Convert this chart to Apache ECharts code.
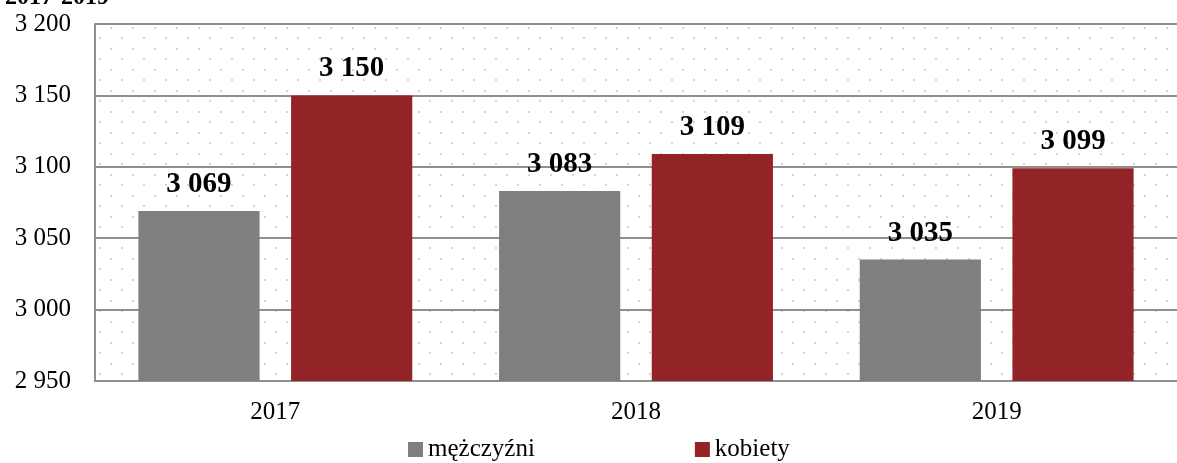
<!DOCTYPE html>
<html style="height: 100%">
<head>
<meta charset="utf-8">
<style type="text/css">
    body, html, #chart {width: 100%; height: 100%; margin: 0; overflow: hidden; background: #fff;}
</style>
</head>
<body>
<div id="chart"></div>
<script type="text/javascript" src="https://cdn.jsdelivr.net/npm/echarts@6/dist/echarts.min.js"></script>
<script type="text/javascript">
var years = ['2017', '2018', '2019'];
var seriesNames = ['mężczyźni', 'kobiety'];
var menData = [3069, 3083, 3035];
var womenData = [3150, 3109, 3099];
var yMin = 2950, yMax = 3200, yStep = 50;

var serif = '"Liberation Serif", "DejaVu Serif", serif';
var gridColor = '#8f8f8f';

function fmt(v) {
    return String(v).replace(/\B(?=(\d{3})+(?!\d))/g, ' ');
}

// dotted background like the source chart
var tile = document.createElement('canvas');
tile.width = 22; tile.height = 21;
var ctx = tile.getContext('2d');
ctx.fillStyle = '#d4d4d4';
ctx.fillRect(0, 6, 2, 2);
ctx.fillRect(11, 16, 2, 2);

var chart = echarts.init(document.getElementById('chart'));
var labelStyle = {
    show: true,
    position: 'top',
    distance: 12,
    fontFamily: serif,
    fontWeight: 'bold',
    fontSize: 29,
    color: '#000',
    formatter: function (p) { return fmt(p.value); }
};

var option = {
    animation: false,
    backgroundColor: '#fff',
    title: {
        text: '2017-2019',
        left: 0,
        top: -19,
        textStyle: {fontFamily: serif, fontSize: 24, fontWeight: 'bold', color: '#000'}
    },
    grid: {
        left: 95, right: 0, top: 24, bottom: 82,
        show: true,
        borderWidth: 0,
        backgroundColor: {image: tile, repeat: 'repeat'}
    },
    legend: {
        left: 403,
        top: 432,
        itemGap: 160,
        itemWidth: 15,
        itemHeight: 15,
        icon: 'rect',
        textStyle: {fontFamily: serif, fontSize: 25, color: '#000'},
        data: seriesNames
    },
    xAxis: {
        type: 'category',
        data: years,
        axisTick: {show: false},
        axisLine: {show: true, lineStyle: {color: gridColor, width: 2}},
        axisLabel: {fontFamily: serif, fontSize: 25, color: '#000', margin: 19}
    },
    yAxis: {
        type: 'value',
        min: yMin, max: yMax, interval: yStep,
        axisLine: {show: true, lineStyle: {color: gridColor, width: 2}},
        axisTick: {show: false},
        splitLine: {show: true, lineStyle: {color: gridColor, width: 2}},
        axisLabel: {fontFamily: serif, fontSize: 25, color: '#000', margin: 24, formatter: fmt}
    },
    series: [{
        name: seriesNames[0],
        type: 'bar',
        barWidth: '33.6%',
        barGap: '26%',
        itemStyle: {color: '#7f7f7f'},
        label: labelStyle,
        data: menData
    }, {
        name: seriesNames[1],
        type: 'bar',
        barWidth: '33.6%',
        barGap: '26%',
        itemStyle: {color: '#922326'},
        label: labelStyle,
        data: womenData
    }]
};
chart.setOption(option);
</script>
</body>
</html>
